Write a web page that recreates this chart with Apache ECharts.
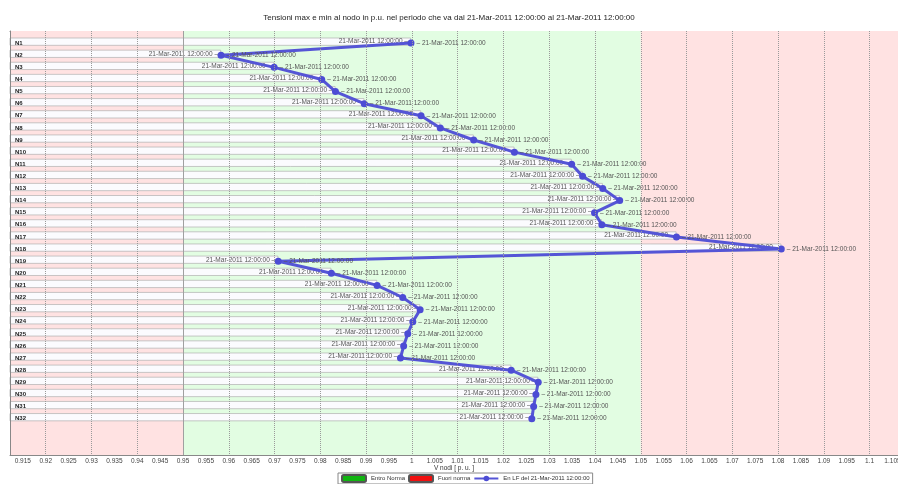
<!DOCTYPE html>
<html>
<head>
<meta charset="utf-8">
<script src="https://cdn.jsdelivr.net/npm/echarts@6/dist/echarts.min.js"></script>
<style>
  html, body { margin: 0; padding: 0; background: #fff; }
  #chart { width: 898px; height: 484px; }
</style>
</head>
<body>
<div id="chart"></div>
<script>
// Nodes of the network and their voltage (p.u.) in the load-flow snapshot
const nodes = ['N1','N2','N3','N4','N5','N6','N7','N8','N9','N10','N11','N12','N13','N14','N15','N16',
               'N17','N18','N19','N20','N21','N22','N23','N24','N25','N26','N27','N28','N29','N30','N31','N32'];
const voltages = [0.9998, 0.9583, 0.9699, 0.9803, 0.9833, 0.9896, 1.0020, 1.0062, 1.0135, 1.0224,
                  1.0349, 1.0373, 1.0417, 1.0454, 1.0399, 1.0415, 1.0578, 1.0807, 0.9708, 0.9824,
                  0.9924, 0.9980, 1.0018, 1.0002, 0.9991, 0.9982, 0.9975, 1.0217, 1.0276, 1.0271,
                  1.0266, 1.0262];
// Time stamp at which min and max were recorded
const stamp = '21-Mar-2011 12:00:00';

// Row slots: one blank slot above, three below
const rows = [''].concat(nodes, [' ', '  ', '   ']);

// Axis ticks and the allowed band
const ticks = [0.915, 0.92, 0.925, 0.93, 0.935, 0.94, 0.945, 0.95, 0.955, 0.96, 0.965, 0.97, 0.975,
               0.98, 0.985, 0.99, 0.995, 1, 1.005, 1.01, 1.015, 1.02, 1.025, 1.03, 1.035, 1.04, 1.045,
               1.05, 1.055, 1.06, 1.065, 1.07, 1.075, 1.08, 1.085, 1.09, 1.095, 1.1, 1.105];
const xMin = 0.9122, xMax = 1.1062;
const bandLow = 0.95, bandHigh = 1.05;

const fontFamily = '"Liberation Sans", Arial, sans-serif';
const pairs = nodes.map((n, i) => [voltages[i], n]);

const chart = echarts.init(document.getElementById('chart'));
chart.setOption({
  animation: false,
  backgroundColor: '#ffffff',
  textStyle: { fontFamily },
  title: {
    text: 'Tensioni max e min al nodo in p.u. nel periodo che va dal ' + stamp + ' al ' + stamp,
    left: 'center', top: 9,
    textStyle: { fontSize: 8, fontWeight: 'normal', color: '#222', fontFamily }
  },
  legend: {
    data: ['Entro Norma', 'Fuori norma', 'En LF del ' + stamp],
    left: 338, bottom: 0,
    itemWidth: 24, itemHeight: 7, itemGap: 3,
    padding: [1, 3],
    borderColor: '#888', borderWidth: 1,
    textStyle: { fontSize: 6, color: '#333', fontFamily }
  },
  grid: { left: 10, right: 0, top: 31, bottom: 29, outerBoundsMode: 'none' },
  xAxis: [{
    type: 'value', position: 'bottom', min: xMin, max: xMax,
    name: 'V nodi [ p. u. ]', nameLocation: 'middle', nameGap: 10, nameMoveOverlap: false,
    nameTextStyle: { fontSize: 6.5, color: '#333', fontFamily },
    axisLine: { show: true, lineStyle: { color: '#888', width: 1 } },
    axisTick: { show: true, inside: true, length: 6, customValues: ticks, lineStyle: { color: '#777' } },
    axisLabel: { show: true, fontSize: 6.5, color: '#444', margin: 3, customValues: ticks,
      formatter: v => String(+(+v).toFixed(3)) },
    splitLine: { show: false }
  }, {
    type: 'value', position: 'top', min: xMin, max: xMax,
    axisLine: { show: true, lineStyle: { color: '#888', width: 1 } },
    axisTick: { show: true, inside: true, length: 6, customValues: ticks, lineStyle: { color: '#777' } },
    axisLabel: { show: false },
    splitLine: { show: false }
  }],
  yAxis: {
    type: 'category', data: rows, inverse: true, boundaryGap: false, z: 10,
    axisLine: { show: true, lineStyle: { color: '#888', width: 1 } },
    axisTick: { show: false },
    axisLabel: { inside: true, interval: 0, margin: 5, fontSize: 6, fontWeight: 'bold', color: '#222' },
    splitLine: { show: false }
  },
  series: [
    {
      // background bands and dotted grid lines
      type: 'line', data: [], z: 0, silent: true,
      markArea: {
        silent: true,
        data: [
          [{ xAxis: xMin, itemStyle: { color: '#ffe2e2' } }, { xAxis: bandLow }],
          [{ xAxis: bandLow, itemStyle: { color: '#e2fde2' } }, { xAxis: bandHigh }],
          [{ xAxis: bandHigh, itemStyle: { color: '#ffe2e2' } }, { xAxis: xMax }]
        ]
      },
      markLine: {
        silent: true, symbol: ['none', 'none'], label: { show: false },
        lineStyle: { type: 'dotted', color: '#9a9a9a', width: 1 },
        data: ticks.map(t => ({ xAxis: t }))
      }
    },
    {
      // row bars ending at the node voltage, labelled on the min side
      type: 'bar', data: pairs, barWidth: 8, z: 2, silent: true,
      itemStyle: { color: '#fbfbfe', borderColor: '#b0b0b0', borderWidth: 0.7 },
      label: {
        show: true, position: 'insideRight', distance: 3,
        formatter: stamp + ' \u2013', fontSize: 6.5, color: '#555', fontFamily
      },
      markLine: {
        silent: true, symbol: ['none', 'none'], label: { show: false },
        lineStyle: { type: 'solid', color: '#a0a0a0', width: 1 },
        data: [{ xAxis: bandLow }]
      }
    },
    {
      name: 'Entro Norma', type: 'bar', data: [],
      itemStyle: { color: '#11b511', borderColor: '#555', borderWidth: 0.5 }
    },
    {
      name: 'Fuori norma', type: 'bar', data: [],
      itemStyle: { color: '#f01010', borderColor: '#555', borderWidth: 0.5 }
    },
    {
      name: 'En LF del ' + stamp, type: 'line', data: pairs, z: 3,
      symbol: 'circle', symbolSize: 7,
      lineStyle: { color: '#5555d6', width: 3 },
      itemStyle: { color: '#4c4cd4' },
      label: {
        show: true, position: 'right', distance: 2,
        formatter: '\u2013 ' + stamp, fontSize: 6.5, color: '#555', fontFamily
      }
    }
  ]
});
</script>
</body>
</html>
